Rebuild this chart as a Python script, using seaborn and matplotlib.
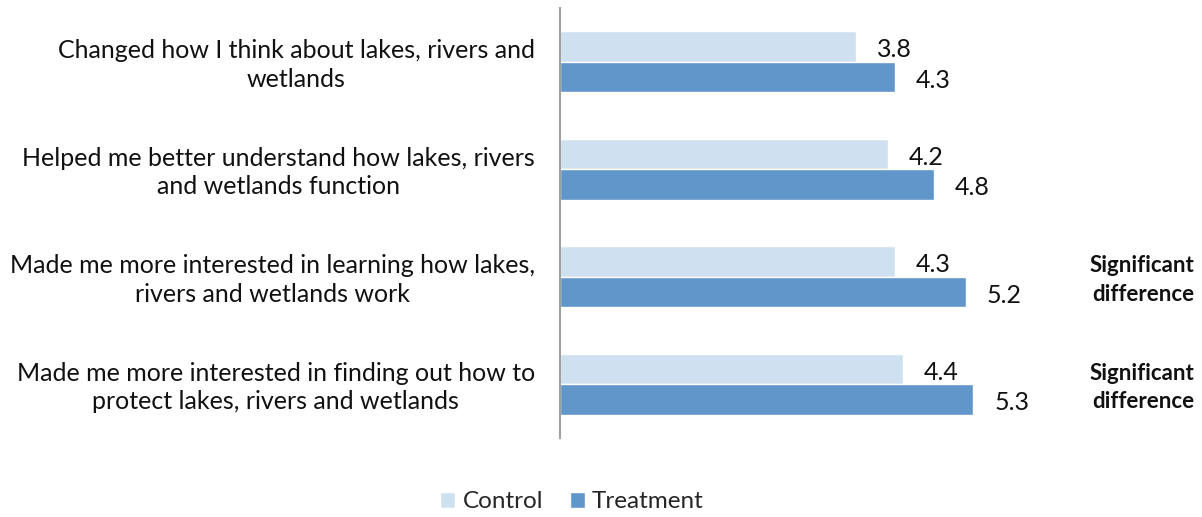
import matplotlib
matplotlib.use("Agg")
import matplotlib.pyplot as plt
import matplotlib.transforms as mtransforms
import seaborn as sns
import pandas as pd

categories = [
    "Changed how I think about lakes, rivers and\nwetlands",
    "Helped me better understand how lakes, rivers\nand wetlands function",
    "Made me more interested in learning how lakes,\nrivers and wetlands work",
    "Made me more interested in finding out how to\nprotect lakes, rivers and wetlands",
]
control = [3.8, 4.2, 4.3, 4.4]
treatment = [4.3, 4.8, 5.2, 5.3]
series = ["Control", "Treatment"]
notes = ["", "", "Significant\ndifference", "Significant\ndifference"]
colors = ["#CFE0F1", "#6096C9"]

df = pd.DataFrame({
    "category": categories * 2,
    "value": control + treatment,
    "group": [series[0]] * 4 + [series[1]] * 4,
})

sns.set_theme(style="white")
plt.rcParams["font.family"] = ["Lato", "DejaVu Sans"]

W, H = 1202, 517
fig = plt.figure(figsize=(W / 100, H / 100), dpi=100)
ax = fig.add_axes([560 / W, 1 - 438 / H, 640 / W, 430 / H])

sns.barplot(data=df, y="category", x="value", hue="group", orient="h",
            palette=colors, width=0.57, ax=ax, legend=True, saturation=1)

ax.set_xlim(0, 640 / 78)
ax.set_ylim(3.5, -0.5)
ax.set_xlabel("")
ax.set_ylabel("")
ax.set_xticks([])
ax.set_yticks(range(len(categories)))
ax.set_yticklabels([])
ax.tick_params(left=False, bottom=False)
for s in ["top", "right", "bottom"]:
    ax.spines[s].set_visible(False)
ax.spines["left"].set_color("#A0A0A0")
ax.spines["left"].set_linewidth(1.5)

for cont in ax.containers:
    labels = [f"{v:.1f}" for v in cont.datavalues]
    ax.bar_label(cont, labels=labels, padding=15, fontsize=18, color="#111111",
                 label_type="edge")
for t in ax.texts:
    t.set_va("center")
    x, y = t.xy
    t.xy = (x, y + 0.03)

fig_y = mtransforms.blended_transform_factory(fig.transFigure, ax.transData)
for i, c in enumerate(categories):
    ax.text(535 / W, i + 0.03, c, transform=fig_y,
            ha="right", va="center", multialignment="center",
            fontsize=18, color="#111111", linespacing=1.3)
    if notes[i]:
        ax.text(1142 / W, i + 0.03, notes[i], transform=fig_y,
                ha="center", va="center", multialignment="right",
                fontsize=16, fontweight="bold", color="#111111", linespacing=1.45)

leg = ax.legend(loc="center", bbox_to_anchor=(572 / W, 1 - 502 / H),
                bbox_transform=fig.transFigure, ncol=2, frameon=False,
                fontsize=17.5, handlelength=0.62, handleheight=0.62,
                handletextpad=0.3, columnspacing=1.1)

fig.savefig("out.png", dpi=100)
